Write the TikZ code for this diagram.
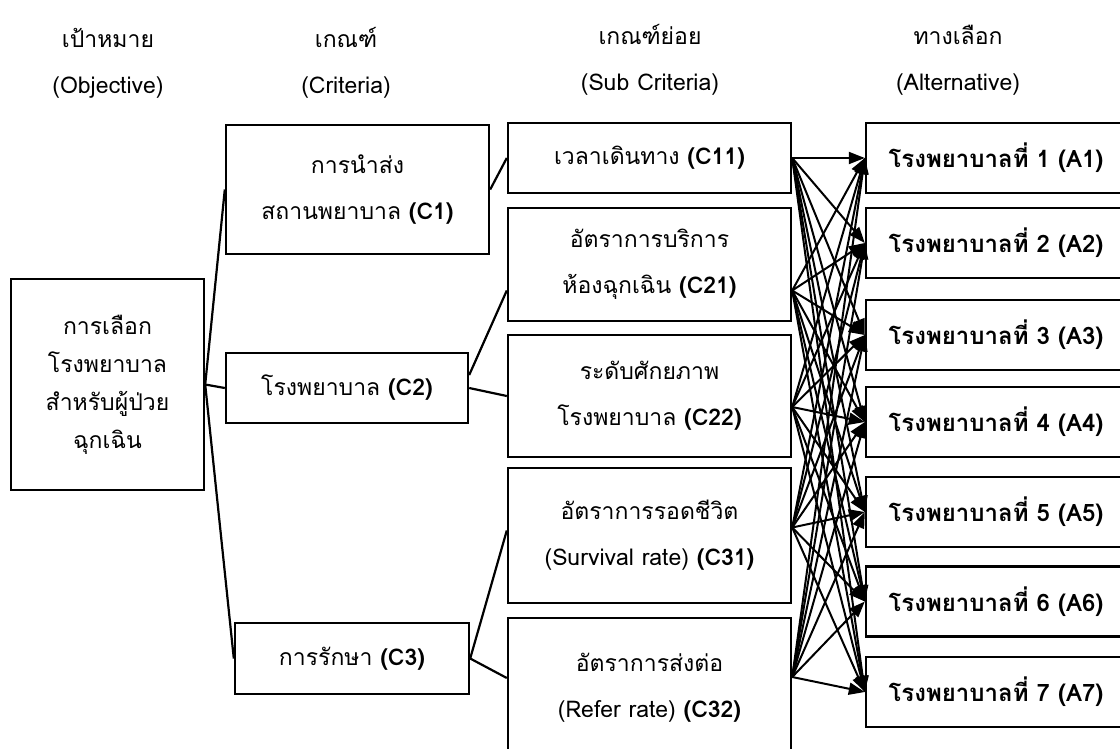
\documentclass[tikz,border=0pt]{standalone}
\usepackage{fontspec}
\setmainfont[Script=Thai]{Loma}
\usetikzlibrary{arrows.meta}

\begin{document}
\begin{tikzpicture}[
        x=1pt, y=-1pt,
        head/.style={align=center, font=\fontsize{23}{46}\selectfont},
        box/.style={draw, line width=2.4pt, align=center, inner sep=0pt,
            font=\fontsize{23}{46}\selectfont},
        alt/.style={box, minimum width=260pt, minimum height=70pt,
            font=\fontsize{24}{26}\selectfont\bfseries},
        link/.style={line width=2.2pt},
        arrow/.style={-{Triangle[length=16pt,width=12pt]}, line width=2pt}
    ]
    \clip (0,0) rectangle (1120,748);
    % Headings
    \node[head] (hObj) at (108,63) {เป้าหมาย\\(Objective)};
    \node[head] (hCri) at (346,63) {เกณฑ์\\(Criteria)};
    \node[head] (hSub) at (650,60) {เกณฑ์ย่อย\\(Sub Criteria)};
    \node[head] (hAlt) at (958,60) {ทางเลือก\\(Alternative)};
    % Nodes
    \node[box, minimum width=193pt, minimum height=211pt,
        font=\fontsize{23}{38}\selectfont] (G) at (107.5,384.5)
        {การเลือก\\โรงพยาบาล\\สำหรับผู้ป่วย\\ฉุกเฉิน};
    \node[box, minimum width=263pt, minimum height=129pt] (C1) at (357.5,189.5)
        {การนำส่ง\\สถานพยาบาล \textbf{(C1)}};
    \node[box, minimum width=242pt, minimum height=70pt] (C2) at (347,388)
        {โรงพยาบาล \textbf{(C2)}};
    \node[box, minimum width=234pt, minimum height=71pt] (C3) at (352,658.5)
        {การรักษา \textbf{(C3)}};
    \node[box, minimum width=283pt, minimum height=70pt] (C11) at (649.5,158)
        {เวลาเดินทาง \textbf{(C11)}};
    \node[box, minimum width=283pt, minimum height=113pt] (C21) at (649.5,264.5)
        {อัตราการบริการ\\ห้องฉุกเฉิน \textbf{(C21)}};
    \node[box, minimum width=283pt, minimum height=122pt] (C22) at (649.5,396)
        {ระดับศักยภาพ\\โรงพยาบาล \textbf{(C22)}};
    \node[box, minimum width=283pt, minimum height=135pt] (C31) at (649.5,535.5)
        {อัตราการรอดชีวิต\\(Survival rate) \textbf{(C31)}};
    \node[box, minimum width=283pt, minimum height=140pt] (C32) at (649.5,688)
        {อัตราการส่งต่อ\\(Refer rate) \textbf{(C32)}};
    \foreach \n/\y in {1/158, 2/243, 3/335, 4/422, 5/512, 6/601.5, 7/692}
        \node[alt] (A\n) at (996,\y) {โรงพยาบาลที่ \n\ (A\n)};
    % Edges
    \draw[link] (G.east) -- (C1.west);
    \draw[link] (G.east) -- (C2.west);
    \draw[link] (G.east) -- (C3.west);
    \draw[link] (C1.east) -- (C11.west);
    \draw[link] ([yshift=13pt]C2.east) -- ([yshift=-26pt]C21.west);
    \draw[link] (C2.east) -- (C22.west);
    \draw[link] (C3.east) -- ([yshift=5pt]C31.west);
    \draw[link] (C3.east) -- ([yshift=10pt]C32.west);
    \foreach \s/\d in {C11/0, C21/-26, C22/-11, C31/8, C32/11}
        \foreach \a in {1,...,7}
            \draw[arrow] ([yshift=\d pt]\s.east) -- (A\a.west);
\end{tikzpicture}
\end{document}
